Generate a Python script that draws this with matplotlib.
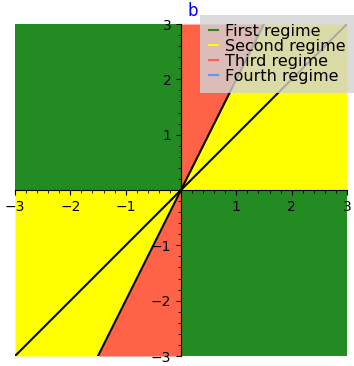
import numpy as np
import matplotlib
matplotlib.use("Agg")
import matplotlib.pyplot as plt
from matplotlib.lines import Line2D
from matplotlib.ticker import AutoMinorLocator

# plot extent and regime boundaries (lines through the origin)
lim = 3.0
slopes = [1.0, 2.0]
ticks = [-3, -2, -1, 1, 2, 3]

regimes = ["First regime", "Second regime", "Third regime", "Fourth regime"]
regime_colors = ["forestgreen", "yellow", "tomato", "cornflowerblue"]

fig = plt.figure(figsize=(3.54, 3.66), dpi=100)
ax = fig.add_axes([15/354, 10/366, 332/354, 332/366])

xs_pos = np.linspace(0, lim, 200)
xs_neg = np.linspace(-lim, 0, 200)
ys_pos = np.linspace(0, lim, 200)
ys_neg = np.linspace(-lim, 0, 200)
steep = max(slopes)

# first regime: second and fourth quadrants
ax.fill_between(xs_neg, 0, lim, color=regime_colors[0], lw=0)
ax.fill_between(xs_pos, -lim, 0, color=regime_colors[0], lw=0)

# second regime: between the x axis and the steep line
ax.fill_between(xs_pos, 0, np.minimum(steep*xs_pos, lim), color=regime_colors[1], lw=0)
ax.fill_between(xs_neg, np.maximum(steep*xs_neg, -lim), 0, color=regime_colors[1], lw=0)

# third regime: between the steep line and the y axis
ax.fill_betweenx(ys_pos, 0, ys_pos/steep, color=regime_colors[2], lw=0)
ax.fill_betweenx(ys_neg, ys_neg/steep, 0, color=regime_colors[2], lw=0)

for s in slopes:
    x0 = max(-lim, -lim/s)
    x1 = min(lim, lim/s)
    ax.plot([x0, x1], [s*x0, s*x1], color="black", lw=1.5)

ax.set_xlim(-lim, lim)
ax.set_ylim(-lim, lim)
ax.spines["left"].set_position("zero")
ax.spines["bottom"].set_position("zero")
ax.spines["right"].set_visible(False)
ax.spines["top"].set_visible(False)
ax.set_xticks(ticks)
ax.set_yticks(ticks)
ax.xaxis.set_minor_locator(AutoMinorLocator(5))
ax.yaxis.set_minor_locator(AutoMinorLocator(5))
ax.tick_params(labelsize=10)

ax.text(0.12, 3.08, "b", color="blue", fontsize=12, va="bottom", ha="left")

handles = [Line2D([], [], color=c, lw=1.5) for c in regime_colors]
ax.legend(handles, regimes, loc="upper right", bbox_to_anchor=(1.0, 1 - 15/366),
          bbox_transform=fig.transFigure, borderaxespad=0, fontsize=11.5,
          handlelength=0.6, handletextpad=0.4, labelspacing=0.0,
          facecolor="lightgray", framealpha=0.8, edgecolor="none",
          fancybox=False, borderpad=0.55)

fig.savefig("out.png", dpi=100)
